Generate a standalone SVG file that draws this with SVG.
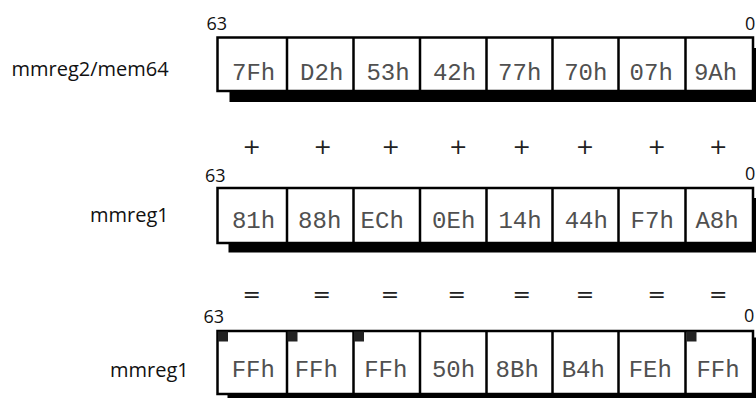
<svg xmlns="http://www.w3.org/2000/svg" width="756" height="398" viewBox="0 0 756 398">
<style>
.bg{fill:#ffffff}
.box{fill:#ffffff;stroke:#000000;stroke-width:2.5}
.div{stroke:#000000;stroke-width:2.5}
.shadow{fill:#000000}
.mark{fill:#222222}
.val{font-family:"Liberation Mono","DejaVu Sans Mono",monospace;font-size:24px;fill:#505050;text-anchor:middle}
.lbl{font-family:"Open Sans","Noto Sans","Liberation Sans",sans-serif;font-size:20px;fill:#111111}
.bit{font-family:"Open Sans","Noto Sans","Liberation Sans",sans-serif;font-size:18px;fill:#111111}
.op{font-family:"DejaVu Sans","Liberation Sans",sans-serif;font-size:22px;fill:#222222;text-anchor:middle}
</style>
<rect class="bg" x="0" y="0" width="756" height="398"/>

<g id="reg-mmreg2-mem64">
  <text class="lbl" x="11.5" y="76">mmreg2/mem64</text>
  <text class="bit" x="206.5" y="30">63</text>
  <text class="bit" x="745" y="30">0</text>
  <rect class="shadow" x="229.5" y="48" width="535.5" height="54"/>
  <rect class="box" x="217.5" y="37.5" width="535.5" height="53.5"/>
  <path class="div" d="M287 37.5V91M353.5 37.5V91M420 37.5V91M486.5 37.5V91M552.5 37.5V91M618.5 37.5V91M685.5 37.5V91"/>
  <text class="val" x="253.6" y="80">7Fh</text>
  <text class="val" x="321.7" y="80">D2h</text>
  <text class="val" x="388" y="80">53h</text>
  <text class="val" x="454.5" y="80">42h</text>
  <text class="val" x="519.7" y="80">77h</text>
  <text class="val" x="585.8" y="80">70h</text>
  <text class="val" x="651.2" y="80">07h</text>
  <text class="val" x="715.5" y="80">9Ah</text>
</g>

<g id="ops-plus">
  <text class="op" x="251.7" y="154">+</text>
  <text class="op" x="322.7" y="154">+</text>
  <text class="op" x="390.7" y="154">+</text>
  <text class="op" x="458.3" y="154">+</text>
  <text class="op" x="521.7" y="154">+</text>
  <text class="op" x="585" y="154">+</text>
  <text class="op" x="656.7" y="154">+</text>
  <text class="op" x="718.3" y="154">+</text>
</g>

<g id="reg-mmreg1-src">
  <text class="lbl" x="90" y="221.5">mmreg1</text>
  <text class="bit" x="205" y="181.5">63</text>
  <text class="bit" x="745" y="180">0</text>
  <rect class="shadow" x="228.5" y="198" width="535.5" height="54.5"/>
  <rect class="box" x="217.5" y="188" width="535.5" height="55"/>
  <path class="div" d="M287 188V243M353.5 188V243M420 188V243M486.5 188V243M552.5 188V243M618.5 188V243M685.5 188V243"/>
  <text class="val" x="253.5" y="228.3">81h</text>
  <text class="val" x="319.7" y="228.3">88h</text>
  <text class="val" x="382.2" y="228.3">ECh</text>
  <text class="val" x="453.7" y="228.3">0Eh</text>
  <text class="val" x="520" y="228.3">14h</text>
  <text class="val" x="586.3" y="228.3">44h</text>
  <text class="val" x="652.2" y="228.3">F7h</text>
  <text class="val" x="717" y="228.3">A8h</text>
</g>

<g id="ops-equals">
  <text class="op" x="251.7" y="302">=</text>
  <text class="op" x="321.7" y="302">=</text>
  <text class="op" x="390" y="302">=</text>
  <text class="op" x="456.7" y="302">=</text>
  <text class="op" x="521.7" y="302">=</text>
  <text class="op" x="585" y="302">=</text>
  <text class="op" x="656.7" y="302">=</text>
  <text class="op" x="718.3" y="302">=</text>
</g>

<g id="reg-mmreg1-dst">
  <text class="lbl" x="110" y="376.5">mmreg1</text>
  <text class="bit" x="203.5" y="323.3">63</text>
  <text class="bit" x="744" y="321.7">0</text>
  <rect class="shadow" x="227.5" y="337.5" width="535.5" height="63"/>
  <rect class="box" x="217.5" y="331" width="535.5" height="63"/>
  <path class="div" d="M287 331V394M353.5 331V394M420 331V394M486.5 331V394M552.5 331V394M618.5 331V394M685.5 331V394"/>
  <rect class="mark" x="218" y="331.5" width="10" height="10"/>
  <rect class="mark" x="287.5" y="331.5" width="10" height="10"/>
  <rect class="mark" x="354" y="331.5" width="10" height="10"/>
  <rect class="mark" x="686.5" y="331.5" width="10" height="10"/>
  <text class="val" x="253.3" y="376.7">FFh</text>
  <text class="val" x="316.3" y="376.7">FFh</text>
  <text class="val" x="385.8" y="376.7">FFh</text>
  <text class="val" x="453.5" y="376.7">50h</text>
  <text class="val" x="517.2" y="376.7">8Bh</text>
  <text class="val" x="583.3" y="376.7">B4h</text>
  <text class="val" x="650.3" y="376.7">FEh</text>
  <text class="val" x="718" y="376.7">FFh</text>
</g>
</svg>
